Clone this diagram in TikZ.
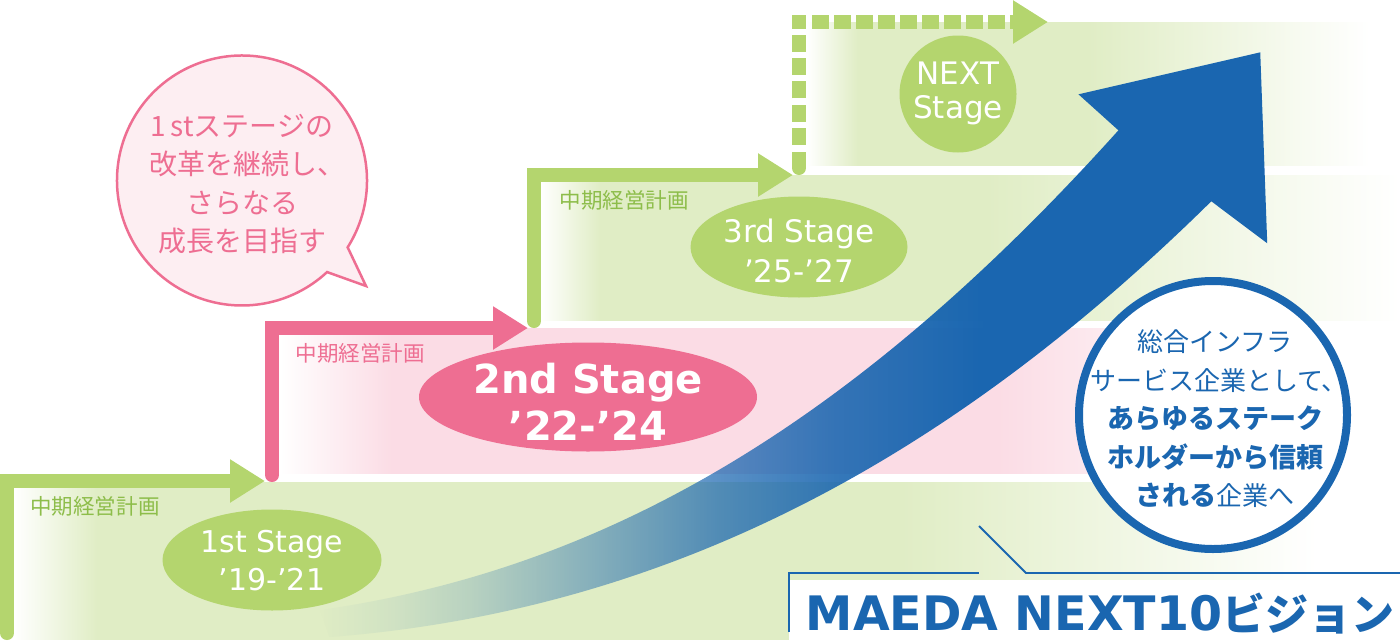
\documentclass[tikz,border=0pt]{standalone}
\usepackage{fontspec}
\setmainfont{Noto Sans CJK JP}
\newfontfamily\stagefont{DejaVu Sans}
\usetikzlibrary{arrows.meta, shapes.geometric, fadings}

\definecolor{leaf}{HTML}{B4D56E}
\definecolor{leaftext}{HTML}{8DBD4A}
\definecolor{leafband}{HTML}{E0EDC5}
\definecolor{rose}{HTML}{EE6E92}
\definecolor{roseband}{HTML}{FBDCE5}
\definecolor{rosebubble}{HTML}{FDEEF2}
\definecolor{deepblue}{HTML}{1A66B0}

\pgfdeclarehorizontalshading{bandone}{100bp}{color(0bp)=(white); color(25bp)=(white); color(28bp)=(leafband); color(57bp)=(leafband); color(72bp)=(white); color(100bp)=(white)}
\pgfdeclarehorizontalshading{bandtwo}{100bp}{color(0bp)=(white); color(25bp)=(white); color(30bp)=(roseband); color(57bp)=(roseband); color(69bp)=(white); color(100bp)=(white)}
\pgfdeclarehorizontalshading{bandthree}{100bp}{color(0bp)=(white); color(25bp)=(white); color(28.5bp)=(leafband); color(51bp)=(leafband); color(75bp)=(white); color(100bp)=(white)}
\pgfdeclarehorizontalshading{bandfour}{100bp}{color(0bp)=(white); color(25bp)=(white); color(29.5bp)=(leafband); color(50bp)=(leafband); color(75bp)=(white); color(100bp)=(white)}
\pgfdeclarehorizontalshading{arrowmask}{100bp}{color(0bp)=(pgftransparent!100); color(25bp)=(pgftransparent!100); color(29bp)=(pgftransparent!92); color(33bp)=(pgftransparent!80); color(40bp)=(pgftransparent!52); color(46bp)=(pgftransparent!28); color(52bp)=(pgftransparent!12); color(60bp)=(pgftransparent!0); color(100bp)=(pgftransparent!0)}
\tikzfading[name=fade arrow, shading=arrowmask]

\begin{document}
\begin{tikzpicture}[x=1pt, y=-1pt,
  stage arrow/.style={line width=14pt, line cap=round, -{Triangle[length=35pt, width=41pt]}},
  stage/.style={ellipse, inner sep=0pt},
  stage text/.style n args={2}{align=center, text=white, font=\stagefont\fontsize{#1}{#2}\selectfont},
  plan label/.style={font=\fontsize{21.5}{26}\selectfont},
  outline/.style={draw=deepblue, line width=1.8pt}]
\useasboundingbox (0,0) rectangle (1400,640);

% Draw stage bands
\fill[shading=bandone] (14,482) rectangle (1400,639);
\fill[shading=bandtwo] (280,328) rectangle (1400,473);
\fill[shading=bandthree] (540,175) rectangle (1400,320);
\fill[shading=bandfour] (807,22) rectangle (1370,165);

% Add big arrow
\fill[deepblue, path fading=fade arrow] (320,610) .. controls (600,570) and (850,430) .. (1120,130)
  -- (1080,94) -- (1262,52) -- (1269,243) -- (1213,201)
  .. controls (960,450) and (680,610) .. (330,637) -- cycle;

% Name the turning points
\coordinate (s1) at (7,633);
\coordinate (c1) at (7,481);
\coordinate (e1) at (265,481);
\coordinate (s2) at (272,475);
\coordinate (c2) at (272,328);
\coordinate (e2) at (528,328);
\coordinate (s3) at (534,321);
\coordinate (c3) at (534,175);
\coordinate (e3) at (793,175);
\coordinate (s4) at (799,145);
\coordinate (c4) at (799,15);
\coordinate (d4) at (812,22);
\coordinate (e4) at (1048,22);

% Draw step arrows
\draw[stage arrow, leaf] (s1) -- (c1) -- (e1);
\draw[stage arrow, rose] (s2) -- (c2) -- (e2);
\draw[stage arrow, leaf] (s3) -- (c3) -- (e3);

% Dashed step
\draw[leaf, line width=14pt, line cap=round] (799,168) -- (799,160);
\draw[leaf, line width=14pt] (799,168) -- (799,152);
\draw[leaf, line width=14pt, dash pattern=on 17pt off 6.3pt] (s4) -- (c4);
\draw[leaf, line width=14pt, dash pattern=on 16.7pt off 5.3pt, -{Triangle[length=35pt, width=41pt]}] (d4) -- (e4);

% Stage labels
\node[stage, fill=leaf, minimum width=219pt, minimum height=101pt] (stage1) at (272,560) {};
\node[stage text={30}{38}] (stage1text) at (272,561) {1st Stage\\’19-’21};
\node[stage, fill=rose, minimum width=338pt, minimum height=109pt] (stage2) at (588,397) {};
\node[align=center, text=white, font=\stagefont\bfseries\fontsize{40}{47}\selectfont] (stage2text) at (588,402) {2nd Stage\\’22-’24};
\node[stage, fill=leaf, minimum width=217pt, minimum height=101pt] (stage3) at (799,247) {};
\node[stage text={31}{40}] (stage3text) at (799,251) {3rd Stage\\’25-’27};
\node[stage, fill=leaf, minimum width=117pt, minimum height=117pt] (stage4) at (958,94) {};
\node[stage text={31}{34}] (stage4text) at (958,93) {NEXT\\Stage};

\node[plan label, text=leaftext] (plan1) at (95,506) {中期経営計画};
\node[plan label, text=rose] (plan2) at (360,353) {中期経営計画};
\node[plan label, text=leaftext] (plan3) at (624,200) {中期経営計画};

% Speech bubble
\draw[fill=rosebubble, draw=rose, line width=2.5pt, line join=miter]
  ([shift={(242,180.5)}]32.3:125) arc[start angle=32.3, end angle=-312.9, radius=125] -- (366,286) -- cycle;
\node[align=center, text=rose, font=\fontsize{28}{38.3}\selectfont] (bubble) at (242,184)
  {1\hspace{4pt}stステージの\\\hspace*{10pt}改革を継続し、\\さらなる\\成長を目指す};

% Vision circle
\node[circle, draw=deepblue, line width=8pt, fill=white, minimum size=268pt, inner sep=0pt] (vision) at (1213,415) {};
\node[align=center, text=deepblue, font=\fontsize{26}{38.5}\selectfont] (visiontext) at (1215,419)
  {総合インフラ\\\hspace*{8pt}サービス企業として、\\{\fontsize{27}{38.5}\selectfont\bfseries あらゆるステーク}\\{\fontsize{27}{38.5}\selectfont\bfseries ホルダーから信頼}\\{\fontsize{27}{38.5}\selectfont\bfseries される}企業へ};

% Vision title
\fill[white] (789,580) rectangle (1400,640);
\coordinate (f1) at (789,632);
\coordinate (f2) at (789,573);
\coordinate (f3) at (979,573);
\coordinate (f4) at (979,526);
\coordinate (f5) at (1026,573);
\coordinate (f6) at (1400,573);
\draw[outline] (f1) -- (f2) -- (f3);
\draw[outline] (f4) -- (f5) -- (f6);
\node[inner sep=0pt, text=deepblue, font=\fontsize{43}{50}\selectfont\bfseries] (title) at (1100,614) {{\stagefont\fontsize{47.5}{50}\selectfont MAEDA NEXT10}ビジョン};
\end{tikzpicture}
\end{document}
